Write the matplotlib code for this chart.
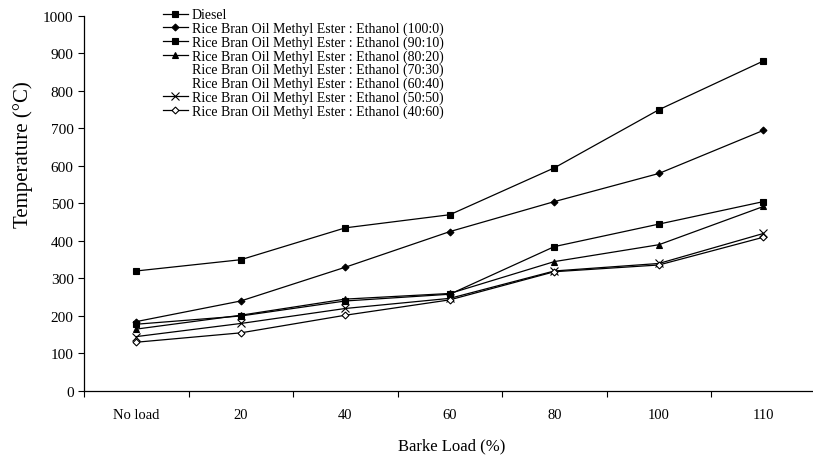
import matplotlib
matplotlib.use("Agg")
import matplotlib.pyplot as plt

plt.rcParams["font.family"] = ["Liberation Serif", "DejaVu Serif"]

# ── data ─────────────────────────────────────────────────────────────────────
loads = ["No load", "20", "40", "60", "80", "100", "110"]

diesel    = [320, 350, 435, 470, 595, 750, 880]
rb_100_0  = [185, 240, 330, 425, 505, 580, 695]
rb_90_10  = [178, 200, 240, 258, 385, 445, 505]
rb_80_20  = [165, 202, 245, 260, 345, 390, 492]
rb_70_30  = [172, 200, 242, 261, 330, 360, 460]
rb_60_40  = [160, 190, 232, 255, 325, 350, 440]
rb_50_50  = [145, 180, 220, 247, 320, 340, 420]
rb_40_60  = [130, 155, 202, 243, 318, 336, 410]

label = "Rice Bran Oil Methyl Ester : Ethanol ({})"
series = [
    ("Diesel",            diesel,   "s", "black", "black", 3),
    (label.format("100:0"), rb_100_0, "D", "black", "black", 3),
    (label.format("90:10"), rb_90_10, "s", "black", "black", 3),
    (label.format("80:20"), rb_80_20, "^", "black", "black", 3),
    (label.format("70:30"), rb_70_30, "o", "white", "white", 1),
    (label.format("60:40"), rb_60_40, "o", "white", "white", 1),
    (label.format("50:50"), rb_50_50, "x", "black", "black", 3),
    (label.format("40:60"), rb_40_60, "D", "black", "white", 3),
]
msize = {"s": 4.5, "D": 3.5, "^": 5, "o": 5, "x": 6}

fig = plt.figure(figsize=(8.13, 4.56), dpi=100)
ax = fig.add_axes([0.1033, 0.1404, 0.9, 0.8224])

x = [i + 0.5 for i in range(len(loads))]
for name, vals, mk, col, face, z in series:
    ax.plot(x, vals, color=col, lw=0.9, marker=mk, markersize=msize[mk],
            markerfacecolor=face, markeredgecolor=col, markeredgewidth=0.8,
            label=name, zorder=z)

ax.set_xlim(0, len(loads))
ax.set_ylim(0, 1000)
ax.set_yticks(range(0, 1001, 100))
ax.set_xticks(range(len(loads)))
ax.set_xticklabels([])
ax.set_xticks(x, minor=True)
ax.set_xticklabels(loads, minor=True)
ax.tick_params(axis="x", which="minor", length=0, pad=12, labelsize=10.5)
ax.tick_params(axis="x", which="major", direction="out", length=4, width=0.8)
ax.tick_params(axis="y", direction="out", length=4, width=0.8, labelsize=11)

for s in ("top", "right"):
    ax.spines[s].set_visible(False)
for s in ("left", "bottom"):
    ax.spines[s].set_linewidth(0.9)

ax.set_ylabel("Temperature (°C)", fontsize=15, va="center")
ax.yaxis.set_label_coords(-0.083, 0.632)
ax.set_xlabel("Barke Load (%)", fontsize=12, va="center")
ax.xaxis.set_label_coords(0.502, -0.144)

ax.legend(loc="upper left", bbox_to_anchor=(0.1, 1.035), frameon=False,
          fontsize=10, handlelength=1.8, handletextpad=0.3, labelspacing=0.02,
          borderaxespad=0)

fig.savefig("out.png", dpi=100)
